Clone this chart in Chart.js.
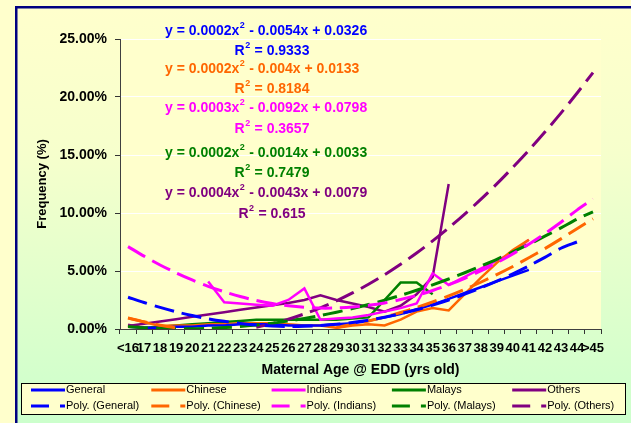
<!DOCTYPE html>
<html lang="en">
  <head>
    <meta charset="UTF-8" />
    <title>Maternal Age @ EDD</title>
    <script src="https://cdn.jsdelivr.net/npm/chart.js@4.4.1/dist/chart.umd.min.js"></script>
    <style>
      html, body { margin: 0; padding: 0; background: #ffffcc; }
      #wrap { position: relative; width: 631px; height: 423px; }
    </style>
  </head>
  <body>
    <div id="wrap"><canvas id="chart" width="631" height="423"></canvas></div>

    <script>
      //data (frequency in %)
      const ages = ['<16', '17', '18', '19', '20', '21', '22', '23', '24', '25', '26', '27', '28', '29', '30',
        '31', '32', '33', '34', '35', '36', '37', '38', '39', '40', '41', '42', '43', '44', '>45'];
      const yTicks = [0, 5, 10, 15, 20, 25];

      const general = [0.2, 0.1, 0.1, 0.2, 0.2, 0.3, 0.3, 0.4, 0.4, 0.4, 0.3, 0.3, 0.3, 0.4, 0.5, 0.7, 1.0, 1.3, 1.7, 2.1, 2.6, 3.1, 3.6, 4.1, 4.6, 5.1];
      const chinese = [0.95, 0.6, 0.25, 0.3, 0.3, 0.4, 0.4, 0.5, 0.5, 0.5, 0.4, 0.3, 0.3, 0.1, 0.3, 0.4, 0.3, 0.8, 1.5, 1.8, 1.6, 3.0, 4.4, 5.7, 6.8, 7.7];
      const indians = [null, null, null, null, null, 4.1, 2.3, 2.2, 2.1, 2.0, 2.5, 3.5, 0.8, 0.9, 1.0, 1.2, 1.5, 1.8, 2.2, 4.8, 3.8, 4.5, 5.2, 5.9, 6.6, 7.7];
      const malays = [0.3, 0.1, 0.2, 0.3, 0.4, 0.5, 0.6, 0.7, 0.8, 0.8, 0.8, 0.8, 0.8, 0.8, 0.9, 1.0, 2.5, 4.0, 4.0, 3.0];
      const others = [0.25, 0.45, 0.65, 0.85, 1.05, 1.25, 1.45, 1.65, 1.85, 2.05, 2.25, 2.5, 2.9, 2.5, 2.2, 1.9, 1.5, 2.0, 3.0, 4.5, 12.5];

      const polyGeneral = [2.74, 2.28, 1.86, 1.48, 1.16, 0.88, 0.66, 0.48, 0.34, 0.26, 0.22, 0.24, 0.30, 0.40, 0.56,
        0.76, 1.02, 1.32, 1.66, 2.06, 2.50, 3.00, 3.54, 4.12, 4.76, 5.44, 6.18, 6.96, 7.5];
      const polyChinese = [0.95, 0.62, 0.33, 0.09, null, null, null, null, null, null, null, null, null, 0.14, 0.39,
        0.69, 1.03, 1.42, 1.85, 2.33, 2.85, 3.42, 4.03, 4.69, 5.39, 6.14, 6.93, 7.77, 8.65, 9.5];
      const polyIndians = [7.10, 6.28, 5.52, 4.84, 4.23, 3.68, 3.21, 2.80, 2.46, 2.19, 2.00, 1.87, 1.80, 1.81, 1.89,
        2.04, 2.25, 2.54, 2.89, 3.32, 3.81, 4.37, 5.00, 5.71, 6.48, 7.31, 8.22, 9.20, 10.25, 11.2];
      const polyMalays = [0.21, 0.11, 0.05, 0.02, 0.02, 0.06, 0.12, 0.21, 0.34, 0.50, 0.69, 0.91, 1.16, 1.45, 1.76,
        2.11, 2.49, 2.90, 3.34, 3.81, 4.31, 4.85, 5.42, 6.01, 6.64, 7.30, 8.00, 8.72, 9.47, 10.1];
      const polyOthers = [0.34, 0.06, null, null, null, null, null, null, 0.15, 0.46, 0.84, 1.30, 1.83, 2.43, 3.11,
        3.86, 4.68, 5.58, 6.55, 7.60, 8.72, 9.91, 11.17, 12.51, 13.93, 15.41, 16.98, 18.61, 20.32, 22.10];

      // trendline labels as printed on the chart
      const trendEquations = [
        ['y = 0.0002x', ' - 0.0054x + 0.0326'],
        ['y = 0.0002x', ' - 0.004x + 0.0133'],
        ['y = 0.0003x', ' - 0.0092x + 0.0798'],
        ['y = 0.0002x', ' - 0.0014x + 0.0033'],
        ['y = 0.0004x', ' - 0.0043x + 0.0079']
      ];
      const trendR2 = ['0.9333', '0.8184', '0.3657', '0.7479', '0.615'];

      const COLORS = ['#0000ff', '#ff6600', '#ff00ff', '#008000', '#800080'];
      const FONT = "'Liberation Sans', Arial, sans-serif";
      const DASH = [20, 8];

      const solid = (label, values, color) => ({
        label: label, data: values, borderColor: color, backgroundColor: color,
        borderWidth: 2.5, pointRadius: 0, tension: 0, order: 1
      });
      const poly = (label, values, color) => ({
        label: label, data: values, borderColor: color, backgroundColor: color,
        borderWidth: 3, borderDash: DASH, pointRadius: 0, tension: 0.3, order: 0, isTrend: true
      });

      const data = {
        labels: ages,
        datasets: [
          solid('General', general, COLORS[0]),
          solid('Chinese', chinese, COLORS[1]),
          solid('Indians', indians, COLORS[2]),
          solid('Malays', malays, COLORS[3]),
          solid('Others', others, COLORS[4]),
          poly('Poly. (General)', polyGeneral, COLORS[0]),
          poly('Poly. (Chinese)', polyChinese, COLORS[1]),
          poly('Poly. (Indians)', polyIndians, COLORS[2]),
          poly('Poly. (Malays)', polyMalays, COLORS[3]),
          poly('Poly. (Others)', polyOthers, COLORS[4])
        ]
      };

      //backgrounds: page, gradient chart area, navy border, plot area
      const backdrop = {
        id: 'backdrop',
        beforeDraw(chart) {
          const c = chart.ctx;
          const a = chart.chartArea;
          c.save();
          c.fillStyle = '#ffffcc';
          c.fillRect(0, 0, 631, 423);
          const g = c.createLinearGradient(0, 8, 0, 423);
          g.addColorStop(0, '#ffffcc');
          g.addColorStop(0.35, '#f6ffcc');
          g.addColorStop(1, '#ccffcc');
          c.fillStyle = g;
          c.fillRect(17, 8, 614, 415);
          c.fillStyle = '#000080';
          c.fillRect(15, 6, 616, 2.5);
          c.fillRect(15, 6, 2.5, 417);
          c.fillStyle = '#ffffcc';
          c.fillRect(a.left, a.top, a.right - a.left, a.bottom - a.top);
          c.restore();
        }
      };

      //trendline equations
      const eqPos = [[31, 51], [69, 89], [108, 129], [153, 173], [193, 214]];
      const equations = {
        id: 'equations',
        afterDatasetsDraw(chart) {
          const c = chart.ctx;
          c.save();
          c.textBaseline = 'middle';
          trendEquations.forEach((eq, i) => {
            const [ey, ry] = eqPos[i];
            c.fillStyle = COLORS[i];
            // equation line
            let x = 165;
            c.font = 'bold 14px ' + FONT;
            c.textAlign = 'left';
            c.fillText(eq[0], x, ey);
            x += c.measureText(eq[0]).width;
            c.font = 'bold 9px ' + FONT;
            c.fillText('2', x + 0.5, ey - 5);
            x += c.measureText('2').width + 1;
            c.font = 'bold 14px ' + FONT;
            c.fillText(eq[1], x, ey);
            // R squared line
            c.font = 'bold 14px ' + FONT;
            const w1 = c.measureText('R').width;
            c.font = 'bold 9px ' + FONT;
            const w2 = c.measureText('2').width;
            c.font = 'bold 14px ' + FONT;
            const rest = ' = ' + trendR2[i];
            const w3 = c.measureText(rest).width;
            let rx = 272 - (w1 + w2 + 1 + w3) / 2;
            c.fillText('R', rx, ry);
            rx += w1;
            c.font = 'bold 9px ' + FONT;
            c.fillText('2', rx + 0.5, ry - 5);
            rx += w2 + 1;
            c.font = 'bold 14px ' + FONT;
            c.fillText(rest, rx, ry);
          });
          c.restore();
        }
      };

      //legend box, 5 columns x 2 rows
      const legendBox = {
        id: 'legendBox',
        afterDraw(chart) {
          const c = chart.ctx;
          c.save();
          c.fillStyle = '#ffffcc';
          c.fillRect(21, 383, 605, 32);
          c.strokeStyle = '#000000';
          c.lineWidth = 1;
          c.strokeRect(21.5, 383.5, 604, 31);
          c.font = '11px ' + FONT;
          c.textBaseline = 'middle';
          c.textAlign = 'left';
          chart.data.datasets.forEach((ds, i) => {
            const col = i % 5;
            const row = Math.floor(i / 5);
            const x = 31 + col * 120.3;
            const y = row === 0 ? 390 : 406;
            c.strokeStyle = ds.borderColor;
            c.lineWidth = 3;
            c.setLineDash(ds.isTrend ? [18, 11] : []);
            c.beginPath();
            c.moveTo(x, y);
            c.lineTo(x + 34, y);
            c.stroke();
            c.setLineDash([]);
            c.fillStyle = '#000000';
            c.fillText(ds.label, x + 35, y);
          });
          c.restore();
        }
      };

      //config
      const config = {
        type: 'line',
        data: data,
        options: {
          responsive: false,
          animation: false,
          spanGaps: false,
          layout: { padding: { left: 0, top: 39, right: 30, bottom: 42 } },
          plugins: {
            legend: { display: false },
            tooltip: { enabled: false }
          },
          scales: {
            x: {
              type: 'category',
              offset: true,
              afterFit: (s) => { s.height = 52; },
              grid: { offset: true, drawOnChartArea: false, tickLength: 5, tickColor: '#333333' },
              border: { display: true, color: '#404040', width: 1 },
              ticks: { autoSkip: false, maxRotation: 0, minRotation: 0, padding: 7, color: '#000000', font: { family: FONT, size: 13, weight: 'bold' } },
              title: { display: true, text: 'Maternal Age @ EDD (yrs old)', color: '#000000', padding: { top: 0, bottom: 2 }, font: { family: FONT, size: 14, weight: 'bold' } }
            },
            y: {
              min: 0,
              max: 25,
              afterFit: (s) => { s.width = 120; },
              afterBuildTicks: (s) => { s.ticks = yTicks.map((v) => ({ value: v })); },
              grid: { color: '#ffffff', lineWidth: 1, tickLength: 5, tickColor: '#333333' },
              border: { display: true, color: '#404040', width: 1 },
              ticks: { padding: 8, color: '#000000', font: { family: FONT, size: 14, weight: 'bold' }, callback: (v) => v.toFixed(2) + '%' },
              title: { display: true, text: 'Frequency (%)', color: '#000000', padding: { top: 35, bottom: 0 }, font: { family: FONT, size: 13, weight: 'bold' } }
            }
          }
        },
        plugins: [backdrop, equations, legendBox]
      };

      //init
      const ctx = document.getElementById('chart');
      const chart = new Chart(ctx, config);
    </script>
  </body>
</html>
